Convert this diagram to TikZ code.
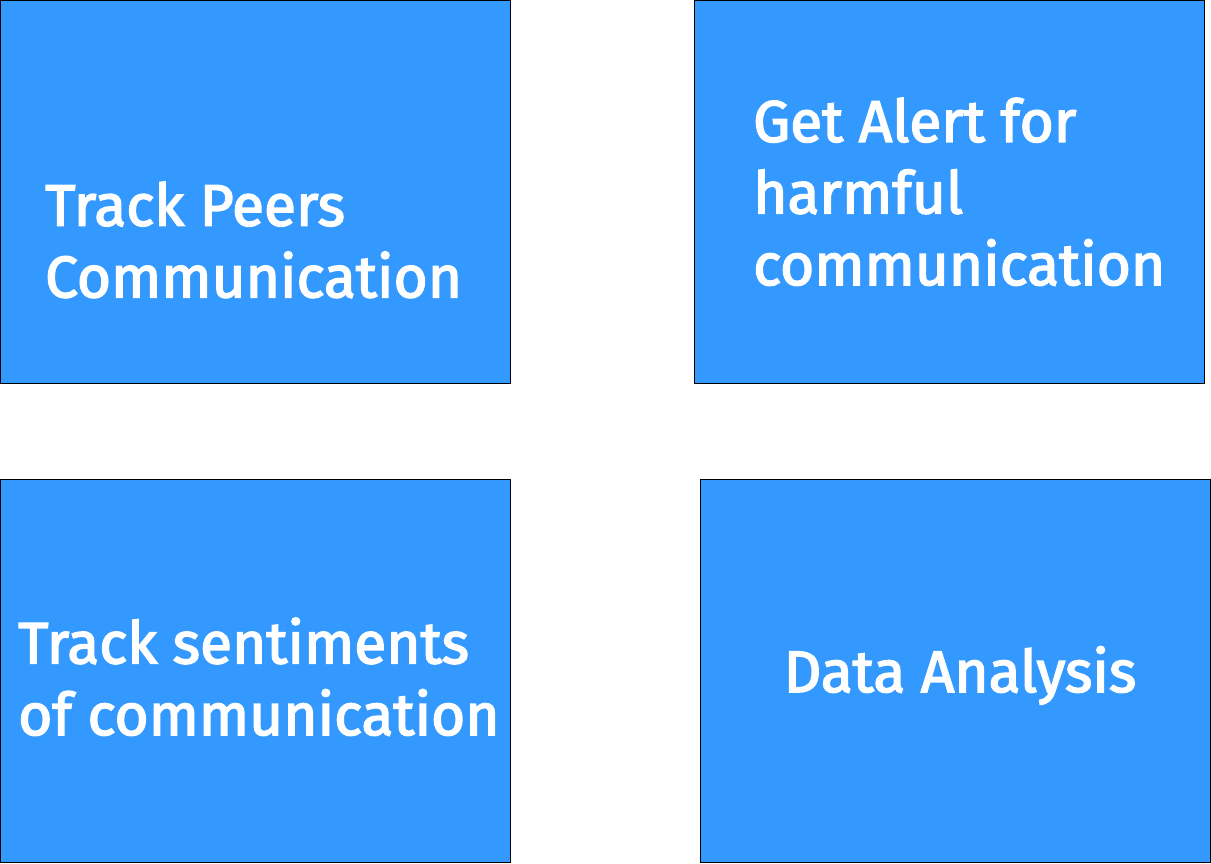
\documentclass[tikz,border=0pt]{standalone}
\usepackage{fontspec}
\setmainfont{Fira Sans}[FakeBold=2.6]
\definecolor{boxblue}{HTML}{3399FF}
\begin{document}
\begin{tikzpicture}[x=1pt,y=-1pt,
  card/.style={draw=black,line width=1.2pt,fill=boxblue,inner sep=0},
  label/.style={text=white,inner sep=0,align=left,font=\fontsize{58.6}{71.6}\selectfont}]
\useasboundingbox (0,0) rectangle (1211,863);
\path[card] (0.6,0.6) rectangle (510.5,383.4) node[midway] (b1) {};
\path[card] (694.5,0.6) rectangle (1204.5,383.4) node[midway] (b2) {};
\path[card] (0.6,479.5) rectangle (510.5,862.4) node[midway] (b3) {};
\path[card] (700.5,479.5) rectangle (1210.4,862.4) node[midway] (b4) {};
\node[label,anchor=base west] (t1) at (45,297.3) {Track Peers\\Communication};
\node[label,anchor=base west] (t2) at (753,285) {Get Alert for\\harmful\\communication};
\node[label,anchor=base west] (t3) at (18,735) {Track sentiments\\of communication};
\node[label,anchor=base] (t4) at (960,692) {Data Analysis};
\end{tikzpicture}
\end{document}
